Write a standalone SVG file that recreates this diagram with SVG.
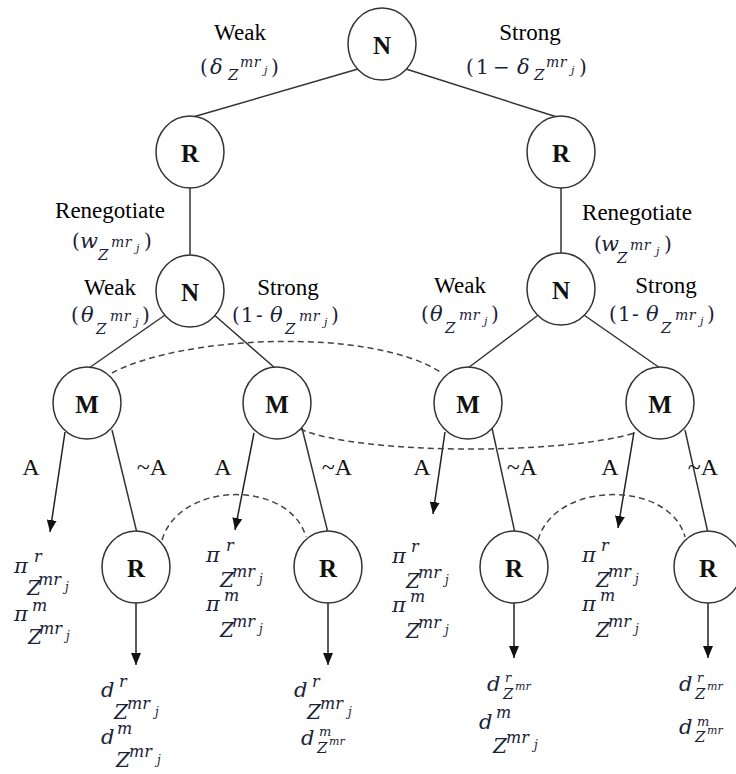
<svg xmlns="http://www.w3.org/2000/svg" width="736" height="774" viewBox="0 0 736 774">
<style>
.lbl{font-family:"Liberation Serif","Times New Roman",serif;font-size:23px;fill:#000;text-anchor:middle}
.al{font-family:"Liberation Serif","Times New Roman",serif;font-size:24px;fill:#111;text-anchor:middle}
.nl{font-family:"Liberation Serif","Times New Roman",serif;font-size:25px;font-weight:bold;fill:#111;text-anchor:middle}
.m{font-family:"DejaVu Serif","Liberation Serif",serif;font-style:italic;fill:#1a2238;font-size:21px}
.mn{font-family:"DejaVu Serif","Liberation Serif",serif;fill:#1a2238;font-size:20px}
.big{font-size:20px}.sup{font-size:16px}.sub{font-size:15px}.ss{font-size:14px;letter-spacing:0.5px}.jj{font-size:12px}.js{font-size:11px}.sm{font-size:13px}
.node{fill:#fff;stroke:#333;stroke-width:1.5}
.edge{fill:none;stroke:#333;stroke-width:1.5}
.arr{fill:none;stroke:#222;stroke-width:1.5;marker-end:url(#ah)}
.dash{fill:none;stroke:#444;stroke-width:1.5;stroke-dasharray:6 4}
</style>
<defs>
<marker id="ah" markerUnits="userSpaceOnUse" markerWidth="12" markerHeight="10" refX="12" refY="5" orient="auto">
<path d="M0,0 L12,5 L0,10 z" fill="#111"/>
</marker>
</defs>

<g id="connectors">
<line class="edge" x1="358" y1="69" x2="193" y2="117"/>
<line class="edge" x1="406" y1="69" x2="557" y2="117"/>
<line class="edge" x1="190" y1="185" x2="190" y2="258"/>
<line class="edge" x1="561" y1="185" x2="561" y2="256"/>
<line class="edge" x1="168" y1="313" x2="89" y2="368"/>
<line class="edge" x1="212" y1="313" x2="275" y2="368"/>
<line class="edge" x1="541" y1="313" x2="468" y2="368"/>
<line class="edge" x1="581" y1="313" x2="660" y2="368"/>
<line class="arr" x1="65" y1="432" x2="50" y2="532"/>
<line class="edge" x1="112" y1="430" x2="137" y2="533"/>
<line class="arr" x1="254" y1="433" x2="235" y2="530"/>
<line class="edge" x1="302" y1="428" x2="328" y2="533"/>
<line class="arr" x1="445" y1="432" x2="433" y2="514"/>
<line class="edge" x1="492" y1="428" x2="515" y2="533"/>
<line class="arr" x1="634" y1="432" x2="618" y2="528"/>
<line class="edge" x1="685" y1="430" x2="708" y2="533"/>
<line class="arr" x1="136" y1="601" x2="136" y2="665"/>
<line class="arr" x1="328" y1="601" x2="328" y2="665"/>
<line class="arr" x1="514" y1="601" x2="514" y2="658"/>
<line class="arr" x1="708" y1="601" x2="708" y2="658"/>
<path class="dash" d="M112,373 C180,336 370,326 442,373"/>
<path class="dash" d="M300,429 C360,455 560,455 635,433"/>
<path class="dash" d="M162,540 C180,480 290,480 306,537"/>
<path class="dash" d="M538,540 C555,480 670,480 685,537"/>
</g>

<g id="n-top"><ellipse class="node" cx="382" cy="44" rx="34" ry="36"/><text class="nl" x="382" y="54">N</text></g>
<g id="r-left"><ellipse class="node" cx="190" cy="152" rx="34" ry="36"/><text class="nl" x="190" y="162">R</text></g>
<g id="r-right"><ellipse class="node" cx="561" cy="152" rx="34" ry="36"/><text class="nl" x="561" y="162">R</text></g>
<g id="n-left"><ellipse class="node" cx="190" cy="291" rx="34" ry="36"/><text class="nl" x="190" y="301">N</text></g>
<g id="n-right"><ellipse class="node" cx="561" cy="289" rx="34" ry="36"/><text class="nl" x="561" y="299">N</text></g>
<g id="m1"><ellipse class="node" cx="87" cy="403" rx="34" ry="36"/><text class="nl" x="87" y="413">M</text></g>
<g id="m2"><ellipse class="node" cx="277" cy="403" rx="34" ry="36"/><text class="nl" x="277" y="413">M</text></g>
<g id="m3"><ellipse class="node" cx="468" cy="403" rx="34" ry="36"/><text class="nl" x="468" y="413">M</text></g>
<g id="m4"><ellipse class="node" cx="660" cy="403" rx="34" ry="36"/><text class="nl" x="660" y="413">M</text></g>
<g id="r1"><ellipse class="node" cx="136" cy="567" rx="34" ry="36"/><text class="nl" x="136" y="577">R</text></g>
<g id="r2"><ellipse class="node" cx="328" cy="567" rx="34" ry="36"/><text class="nl" x="328" y="577">R</text></g>
<g id="r3"><ellipse class="node" cx="514" cy="567" rx="34" ry="36"/><text class="nl" x="514" y="577">R</text></g>
<g id="r4"><ellipse class="node" cx="708" cy="567" rx="34" ry="36"/><text class="nl" x="708" y="577">R</text></g>

<g id="labels">
<text class="lbl" x="240" y="40">Weak</text>
<text class="mn" x="200" y="74">(</text><text class="m" x="210" y="74">δ</text><text class="m sub" x="228" y="80">Z</text><text class="m ss" x="240" y="67">mr</text><text class="m js" x="264" y="74">j</text><text class="mn" x="271" y="74">)</text>

<text class="lbl" x="530" y="40">Strong</text>
<text class="mn" x="466" y="74">(</text><text class="mn" x="476" y="74">1</text><text class="mn" x="493" y="74">−</text><text class="m" x="517" y="74">δ</text><text class="m sub" x="534" y="80">Z</text><text class="m ss" x="546" y="67">mr</text><text class="m js" x="571" y="74">j</text><text class="mn" x="579" y="74">)</text>

<text class="lbl" x="110" y="218">Renegotiate</text>
<text class="mn" x="72" y="248">(</text><text class="m" x="80" y="248">w</text><text class="m sub" x="98" y="260">Z</text><text class="m ss" x="111" y="247">mr</text><text class="m js" x="136" y="252">j</text><text class="mn" x="144" y="248">)</text>

<text class="lbl" x="637" y="220">Renegotiate</text>
<text class="mn" x="594" y="251">(</text><text class="m" x="601" y="251">w</text><text class="m sub" x="617" y="263">Z</text><text class="m ss" x="630" y="250">mr</text><text class="m js" x="656" y="255">j</text><text class="mn" x="664" y="251">)</text>

<text class="lbl" x="110" y="295">Weak</text>
<text class="mn" x="71" y="322">(</text><text class="m" x="81" y="322">θ</text><text class="m sub" x="96" y="334">Z</text><text class="m ss" x="110" y="321">mr</text><text class="m js" x="135" y="326">j</text><text class="mn" x="142" y="322">)</text>

<text class="lbl" x="288" y="295">Strong</text>
<text class="mn" x="232" y="322">(</text><text class="mn" x="241" y="322">1</text><text class="mn" x="256" y="322">-</text><text class="m" x="270" y="322">θ</text><text class="m sub" x="285" y="334">Z</text><text class="m ss" x="299" y="321">mr</text><text class="m js" x="324" y="326">j</text><text class="mn" x="331" y="322">)</text>

<text class="lbl" x="460" y="293">Weak</text>
<text class="mn" x="421" y="321">(</text><text class="m" x="430" y="321">θ</text><text class="m sub" x="445" y="333">Z</text><text class="m ss" x="459" y="320">mr</text><text class="m js" x="484" y="325">j</text><text class="mn" x="491" y="321">)</text>

<text class="lbl" x="666" y="293">Strong</text>
<text class="mn" x="609" y="321">(</text><text class="mn" x="618" y="321">1</text><text class="mn" x="632" y="321">-</text><text class="m" x="646" y="321">θ</text><text class="m sub" x="661" y="333">Z</text><text class="m ss" x="675" y="320">mr</text><text class="m js" x="700" y="325">j</text><text class="mn" x="707" y="321">)</text>

<text class="al" x="31" y="475">A</text>
<text class="al" x="152" y="475">~A</text>
<text class="al" x="223" y="475">A</text>
<text class="al" x="337" y="475">~A</text>
<text class="al" x="422" y="475">A</text>
<text class="al" x="522" y="475">~A</text>
<text class="al" x="610" y="475">A</text>
<text class="al" x="703" y="475" text-anchor="start">~A</text>
</g>

<g id="payoff-1">
<text class="m" x="14" y="573">π</text><text class="m sup" x="34" y="562">r</text>
<text class="m big" x="27" y="595">Z</text><text class="m sup" x="38" y="585">mr</text><text class="m jj" x="65" y="591">j</text>
<text class="m" x="14" y="621">π</text><text class="m sup" x="32" y="611">m</text>
<text class="m big" x="28" y="644">Z</text><text class="m sup" x="39" y="634">mr</text><text class="m jj" x="66" y="640">j</text>
</g>
<g id="payoff-2">
<text class="m" x="206" y="562">π</text><text class="m sup" x="226" y="551">r</text>
<text class="m big" x="220" y="587">Z</text><text class="m sup" x="232" y="577">mr</text><text class="m jj" x="259" y="583">j</text>
<text class="m" x="206" y="611">π</text><text class="m sup" x="224" y="601">m</text>
<text class="m big" x="220" y="637">Z</text><text class="m sup" x="232" y="627">mr</text><text class="m jj" x="259" y="633">j</text>
</g>
<g id="payoff-3">
<text class="m" x="392" y="563">π</text><text class="m sup" x="411" y="552">r</text>
<text class="m big" x="406" y="588">Z</text><text class="m sup" x="418" y="578">mr</text><text class="m jj" x="445" y="584">j</text>
<text class="m" x="392" y="612">π</text><text class="m sup" x="410" y="602">m</text>
<text class="m big" x="406" y="638">Z</text><text class="m sup" x="418" y="628">mr</text><text class="m jj" x="445" y="634">j</text>
</g>
<g id="payoff-4">
<text class="m" x="582" y="562">π</text><text class="m sup" x="601" y="551">r</text>
<text class="m big" x="596" y="587">Z</text><text class="m sup" x="608" y="577">mr</text><text class="m jj" x="635" y="583">j</text>
<text class="m" x="582" y="611">π</text><text class="m sup" x="600" y="601">m</text>
<text class="m big" x="596" y="637">Z</text><text class="m sup" x="608" y="627">mr</text><text class="m jj" x="635" y="633">j</text>
</g>

<g id="outcome-1">
<text class="m" x="101" y="697">d</text><text class="m sup" x="119" y="687">r</text>
<text class="m big" x="114" y="719">Z</text><text class="m sup" x="127" y="709">mr</text><text class="m jj" x="155" y="716">j</text>
<text class="m" x="101" y="744">d</text><text class="m sup" x="117" y="734">m</text>
<text class="m big" x="116" y="767">Z</text><text class="m sup" x="129" y="757">mr</text><text class="m jj" x="157" y="764">j</text>
</g>
<g id="outcome-2">
<text class="m" x="294" y="697">d</text><text class="m sup" x="312" y="687">r</text>
<text class="m big" x="307" y="719">Z</text><text class="m sup" x="320" y="709">mr</text><text class="m jj" x="348" y="716">j</text>
<text class="m" x="301" y="745">d</text><text class="m sm" x="319" y="736">m</text><text class="m sub" x="317" y="753">Z</text><text class="m js" x="329" y="745">mr</text>
</g>
<g id="outcome-3">
<text class="m" x="487" y="691">d</text><text class="m sm" x="505" y="682">r</text><text class="m sub" x="503" y="699">Z</text><text class="m js" x="515" y="690">mr</text>
<text class="m" x="479" y="729">d</text><text class="m sup" x="496" y="718">m</text>
<text class="m big" x="493" y="753">Z</text><text class="m sup" x="506" y="743">mr</text><text class="m jj" x="534" y="749">j</text>
</g>
<g id="outcome-4">
<text class="m" x="679" y="691">d</text><text class="m sm" x="697" y="682">r</text><text class="m sub" x="695" y="699">Z</text><text class="m js" x="707" y="690">mr</text>
<text class="m" x="679" y="734">d</text><text class="m sm" x="697" y="726">m</text><text class="m sub" x="695" y="742">Z</text><text class="m js" x="707" y="734">mr</text>
</g>
</svg>
